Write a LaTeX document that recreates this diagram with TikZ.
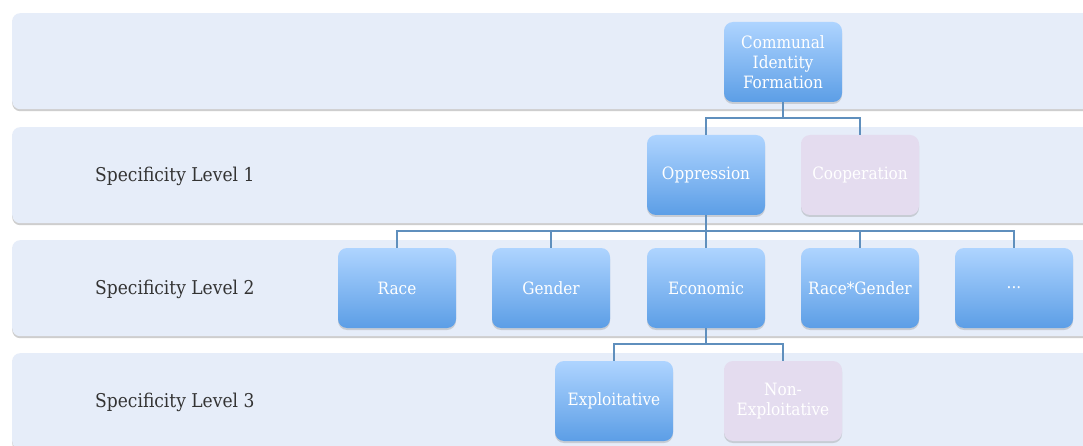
\documentclass[tikz,border=0pt]{standalone}
\usepackage{fontspec}
\setmainfont{DejaVu Serif Condensed}
\usetikzlibrary{shadows}
\definecolor{bandfill}{HTML}{E6EDF9}
\definecolor{boxtop}{HTML}{AED4FF}
\definecolor{boxbot}{HTML}{5C9EE6}
\definecolor{purplebox}{HTML}{E4DCEF}
\definecolor{linkcol}{HTML}{5F8FBD}
\definecolor{labelcol}{HTML}{333333}
\tikzset{
  band/.style={rectangle, rounded corners=8pt, fill=bandfill, minimum width=1100pt, minimum height=96pt, anchor=north west, inner sep=0pt,
    drop shadow={shadow xshift=0pt, shadow yshift=-2pt, opacity=0.35, fill=black!55}},
  bluebox/.style={rectangle, rounded corners=9pt, top color=boxtop, bottom color=boxbot, minimum width=118pt, minimum height=80pt, inner sep=2pt,
    text=white, font=\fontsize{17}{20}\selectfont, align=center,
    drop shadow={shadow xshift=0pt, shadow yshift=-2pt, opacity=0.3, fill=black!50}},
  purplebox/.style={bluebox, top color=purplebox, bottom color=purplebox},
  levellabel/.style={anchor=west, text=labelcol, font=\fontsize{19}{22}\selectfont, inner sep=0pt},
  link/.style={draw=linkcol, line width=1.3pt}
}
\begin{document}
\begin{tikzpicture}[x=1pt,y=-1pt]
\useasboundingbox (0,0) rectangle (1083,446);
\fill[white] (0,0) rectangle (1083,446);
% bands
\node[band] (band1) at (12,13) {};
\node[band] (band2) at (12,127) {};
\node[band] (band3) at (12,240) {};
\node[band] (band4) at (12,353) {};
% level labels
\node[levellabel] (lab1) at (95,176) {Specificity Level 1};
\node[levellabel] (lab2) at (95,289) {Specificity Level 2};
\node[levellabel] (lab3) at (95,402) {Specificity Level 3};
% boxes
\node[bluebox] (cif) at (783,62) {Communal\\Identity\\Formation};
\node[bluebox] (opp) at (706,175) {Oppression};
\node[purplebox] (coop) at (860,175) {Cooperation};
\node[bluebox] (race) at (397,288) {Race};
\node[bluebox] (gender) at (551,288) {Gender};
\node[bluebox] (econ) at (706,288) {Economic};
\node[bluebox] (rg) at (860,288) {Race*Gender};
\node[bluebox] (more) at (1014,288) {...};
\node[bluebox] (expl) at (614,401) {Exploitative};
\node[purplebox] (nonexpl) at (783,401) {Non-\\Exploitative};
% connectors
\coordinate (j1) at (783,118);
\coordinate (j2) at (706,231);
\coordinate (j3) at (706,344);
\draw[link] (cif.south) -- (j1);
\draw[link] (opp.north) |- (j1) -| (coop.north);
\draw[link] (opp.south) -- (j2);
\draw[link] (race.north) |- (j2) -| (more.north);
\draw[link] (gender.north) -- (gender.north |- j2);
\draw[link] (econ.north) -- (j2);
\draw[link] (rg.north) -- (rg.north |- j2);
\draw[link] (econ.south) -- (j3);
\draw[link] (expl.north) |- (j3) -| (nonexpl.north);
\end{tikzpicture}
\end{document}
